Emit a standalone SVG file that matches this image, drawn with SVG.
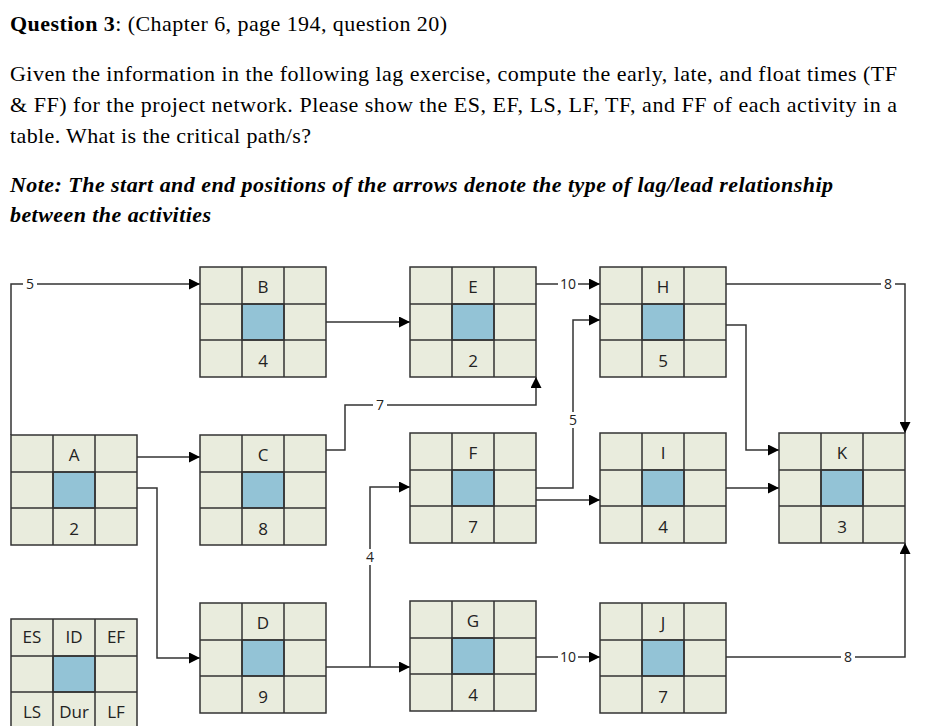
<svg xmlns="http://www.w3.org/2000/svg" width="939" height="726" viewBox="0 0 939 726">
<defs>
<style>
.t{font-family:"Liberation Serif",serif;font-size:22px;fill:#000}
.n{font-family:"Open Sans","Liberation Sans",sans-serif;font-size:17px;fill:#222;text-anchor:middle}
.l{font-family:"Open Sans","Liberation Sans",sans-serif;font-size:14px;fill:#222;text-anchor:middle}
.c{fill:#e9ecdd;stroke:#333;stroke-width:1.5}
.m{fill:#93c3d6;stroke:#333;stroke-width:1.5}
.w{fill:none;stroke:#333;stroke-width:1.5}
</style>
<marker id="a" viewBox="0 0 10 10" refX="10" refY="5" markerWidth="11" markerHeight="11" markerUnits="userSpaceOnUse" orient="auto"><path d="M0,0L10,5L0,10z" fill="#000"/></marker>
<g id="grid">
<rect class="c" x="0" y="0" width="126" height="110"/>
<rect class="m" x="42" y="37" width="42" height="36"/>
<path class="w" d="M42,0V110M84,0V110M0,37H126M0,73H126"/>
</g>
</defs>
<rect width="939" height="726" fill="#fff"/>
<text class="t" x="10" y="31" textLength="437" lengthAdjust="spacing"><tspan font-weight="bold">Question 3</tspan>: (Chapter 6, page 194, question 20)</text>
<text class="t" x="10" y="81" textLength="887" lengthAdjust="spacing">Given the information in the following lag exercise, compute the early, late, and float times (TF</text>
<text class="t" x="10" y="112" textLength="887" lengthAdjust="spacing">&amp; FF) for the project network. Please show the ES, EF, LS, LF, TF, and FF of each activity in a</text>
<text class="t" x="10" y="143" textLength="301" lengthAdjust="spacing">table. What is the critical path/s?</text>
<text class="t" x="10" y="192" font-weight="bold" font-style="italic" textLength="823" lengthAdjust="spacing">Note: The start and end positions of the arrows denote the type of lag/lead relationship</text>
<text class="t" x="10" y="222" font-weight="bold" font-style="italic" textLength="201" lengthAdjust="spacing">between the activities</text>

<g id="connectors" class="w">
<path d="M11,435V284H200" marker-end="url(#a)"/>
<path d="M326,322H410" marker-end="url(#a)"/>
<path d="M536,284H600" marker-end="url(#a)"/>
<path d="M726,284H905V433" marker-end="url(#a)"/>
<path d="M326,450H345V405H536V377" marker-end="url(#a)"/>
<path d="M137,457H200" marker-end="url(#a)"/>
<path d="M137,488H157V658H200" marker-end="url(#a)"/>
<path d="M326,667H410" marker-end="url(#a)"/>
<path d="M370,667V487H410" marker-end="url(#a)"/>
<path d="M536,488H573V320H600" marker-end="url(#a)"/>
<path d="M536,500H600" marker-end="url(#a)"/>
<path d="M726,325H746V450H779" marker-end="url(#a)"/>
<path d="M726,488H779" marker-end="url(#a)"/>
<path d="M536,657H600" marker-end="url(#a)"/>
<path d="M726,657H905V543" marker-end="url(#a)"/>
</g>
<g id="lags">
<rect x="23" y="276" width="14" height="16" fill="#fff"/><text class="l" x="30" y="289">5</text>
<rect x="558" y="276" width="20" height="16" fill="#fff"/><text class="l" x="568" y="289">10</text>
<rect x="881" y="276" width="14" height="16" fill="#fff"/><text class="l" x="888" y="289">8</text>
<rect x="373" y="397" width="14" height="16" fill="#fff"/><text class="l" x="380" y="410">7</text>
<rect x="566" y="412" width="14" height="16" fill="#fff"/><text class="l" x="573" y="425">5</text>
<rect x="363" y="549" width="14" height="16" fill="#fff"/><text class="l" x="370" y="562">4</text>
<rect x="558" y="649" width="20" height="16" fill="#fff"/><text class="l" x="568" y="662">10</text>
<rect x="841" y="649" width="14" height="16" fill="#fff"/><text class="l" x="848" y="662">8</text>
</g>
<g id="A"><use href="#grid" x="11" y="435"/><text class="n" x="74" y="461">A</text><text class="n" x="74" y="535">2</text></g>
<g id="B"><use href="#grid" x="200" y="267"/><text class="n" x="263" y="293">B</text><text class="n" x="263" y="367">4</text></g>
<g id="C"><use href="#grid" x="200" y="435"/><text class="n" x="263" y="461">C</text><text class="n" x="263" y="535">8</text></g>
<g id="D"><use href="#grid" x="200" y="603"/><text class="n" x="263" y="629">D</text><text class="n" x="263" y="703">9</text></g>
<g id="E"><use href="#grid" x="410" y="267"/><text class="n" x="473" y="293">E</text><text class="n" x="473" y="367">2</text></g>
<g id="F"><use href="#grid" x="410" y="433"/><text class="n" x="473" y="459">F</text><text class="n" x="473" y="533">7</text></g>
<g id="G"><use href="#grid" x="410" y="601"/><text class="n" x="473" y="627">G</text><text class="n" x="473" y="701">4</text></g>
<g id="H"><use href="#grid" x="600" y="267"/><text class="n" x="663" y="293">H</text><text class="n" x="663" y="367">5</text></g>
<g id="I"><use href="#grid" x="600" y="433"/><text class="n" x="663" y="459">I</text><text class="n" x="663" y="533">4</text></g>
<g id="J"><use href="#grid" x="600" y="603"/><text class="n" x="663" y="629">J</text><text class="n" x="663" y="703">7</text></g>
<g id="K"><use href="#grid" x="779" y="433"/><text class="n" x="842" y="459">K</text><text class="n" x="842" y="533">3</text></g>
<g id="legend"><use href="#grid" x="11" y="619"/>
<text class="n" x="32" y="643">ES</text><text class="n" x="74" y="643">ID</text><text class="n" x="116" y="643">EF</text>
<text class="n" x="32" y="718">LS</text><text class="n" x="74" y="718" font-size="12">Dur</text><text class="n" x="116" y="718">LF</text></g>
</svg>
